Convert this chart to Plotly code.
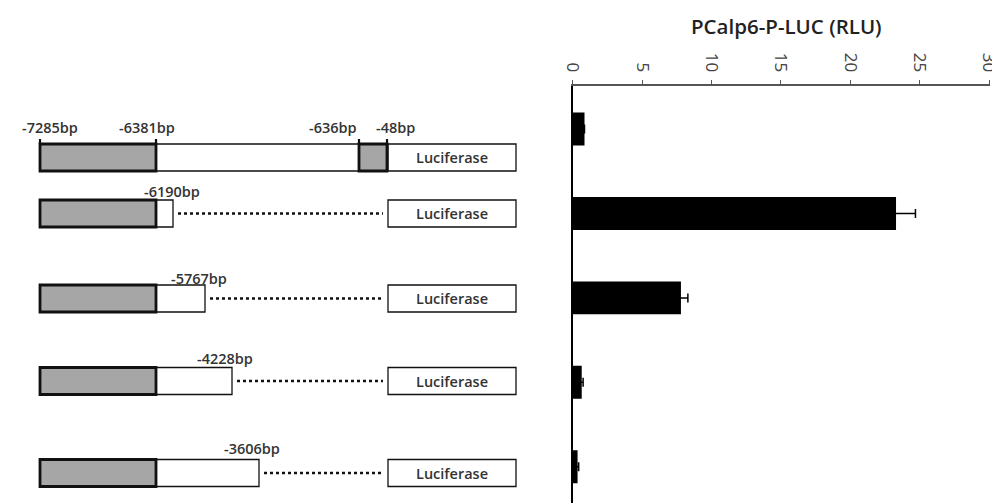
import plotly.graph_objects as go

# luciferase activity per construct
constructs = ["-7285/-48", "-6190", "-5767", "-4228", "-3606"]
rlu = [0.85, 23.3, 7.8, 0.65, 0.35]
rlu_err = [0, 1.4, 0.5, 0.1, 0.08]

# promoter labels
full_labels = ["-7285bp", "-6381bp", "-636bp", "-48bp"]
deletion_labels = ["-6190bp", "-5767bp", "-4228bp", "-3606bp"]
reporter = "Luciferase"

# page has an 8px body margin, so the figure is a bit smaller and shifted
OFF = 8
W, H = 1000 - OFF, 503 - OFF

# schematic layout, in page pixels (hidden x2/y2 axis pair)
row_top = [144, 200, 285, 367.5, 459.5]
box_h = 27
gray_x = (40, 156)
luc_x = (388, 516)
full_marks = [40, 156, 359, 387]
full_label_x = [50, 147, 333, 395]
full_label_y = 127
del_end = [173, 205, 232, 259]
del_label_x = [172, 199, 225, 252]
del_label_y = [191, 278, 358, 448]

lab_font = dict(family="Open Sans", size=14.5, color="#333", weight=600)
shapes = []
ann = []


def rect(x0, x1, y0, fill, lw):
    shapes.append(dict(type="rect", xref="x2", yref="y2", x0=x0, x1=x1, y0=y0, y1=y0 + box_h,
                       fillcolor=fill, line=dict(color="#111", width=lw), layer="above"))


def luciferase(y0):
    rect(luc_x[0], luc_x[1], y0, "white", 1.3)
    ann.append(dict(xref="x2", yref="y2", x=(luc_x[0] + luc_x[1]) / 2, y=y0 + box_h / 2, text=reporter,
                    xanchor="center", yanchor="middle", showarrow=False,
                    font=dict(family="Open Sans", size=14.5, color="#333", weight=600)))


# full length construct
y0 = row_top[0]
rect(gray_x[1], full_marks[3], y0, "white", 1.3)
luciferase(y0)
rect(gray_x[0], gray_x[1], y0, "#a6a6a6", 2.8)
rect(full_marks[2], full_marks[3], y0, "#a6a6a6", 2.8)
for mx, lx, t in zip(full_marks, full_label_x, full_labels):
    shapes.append(dict(type="line", xref="x2", yref="y2", x0=mx, x1=mx, y0=y0 - 5, y1=y0,
                       line=dict(color="#111", width=2.2)))
    ann.append(dict(xref="x2", yref="y2", x=lx, y=full_label_y, text=t, showarrow=False,
                    xanchor="center", yanchor="middle", font=lab_font))

# deletion constructs
for i, (ex, lx, t, ly) in enumerate(zip(del_end, del_label_x, deletion_labels, del_label_y)):
    y0 = row_top[i + 1]
    rect(gray_x[1], ex, y0, "white", 1.3)
    shapes.append(dict(type="line", xref="x2", yref="y2", x0=ex + 5, x1=luc_x[0] - 5,
                       y0=y0 + box_h / 2, y1=y0 + box_h / 2,
                       line=dict(color="#111", width=2.5, dash="dot")))
    luciferase(y0)
    rect(gray_x[0], gray_x[1], y0, "#a6a6a6", 2.8)
    ann.append(dict(xref="x2", yref="y2", x=lx, y=ly, text=t, showarrow=False,
                    xanchor="center", yanchor="middle", font=lab_font))

# title of bar chart
ann.append(dict(xref="x2", yref="y2", x=786, y=26, text="PCalp6-P-LUC (RLU)",
                xanchor="center", yanchor="middle", showarrow=False,
                font=dict(family="Open Sans", size=20.5, color="#222", weight=600)))

fig = go.Figure()
fig.add_trace(go.Bar(
    x=rlu, y=constructs, orientation="h", width=0.39,
    marker=dict(color="black", line=dict(width=0)),
    error_x=dict(type="data", array=rlu_err, color="black", thickness=1.5, width=4.5),
))

x0_px, x30_px = 572.7, 989
x_max = 30.05
fig.update_layout(
    width=W, height=H,
    margin=dict(l=0, r=0, t=0, b=0),
    paper_bgcolor="white", plot_bgcolor="rgba(0,0,0,0)",
    showlegend=False,
    xaxis=dict(domain=[(x0_px - OFF) / W, (x0_px + (x30_px - x0_px) * x_max / 30 - OFF) / W],
               side="top", range=[0, x_max], dtick=5, ticklabeloverflow="allow",
               tickangle=90, ticks="outside", ticklen=4, tickcolor="#555", ticklabelstandoff=2,
               showline=True, linecolor="#555", linewidth=1.5, showgrid=False, zeroline=False,
               automargin=False,
               tickfont=dict(family="Open Sans", size=17, color="#444")),
    yaxis=dict(domain=[0, 1 - (86 - OFF) / H], type="category", range=[4.43, -0.51],
               showticklabels=False, ticks="", showline=True, linecolor="black",
               linewidth=1.5, showgrid=False, zeroline=False, automargin=False),
    xaxis2=dict(domain=[0, 1], range=[OFF, OFF + W], visible=False, anchor="y2", automargin=False),
    yaxis2=dict(domain=[0, 1], range=[OFF + H, OFF], visible=False, anchor="x2", automargin=False),
    shapes=shapes,
    annotations=ann,
)

fig.write_html("out.html")
